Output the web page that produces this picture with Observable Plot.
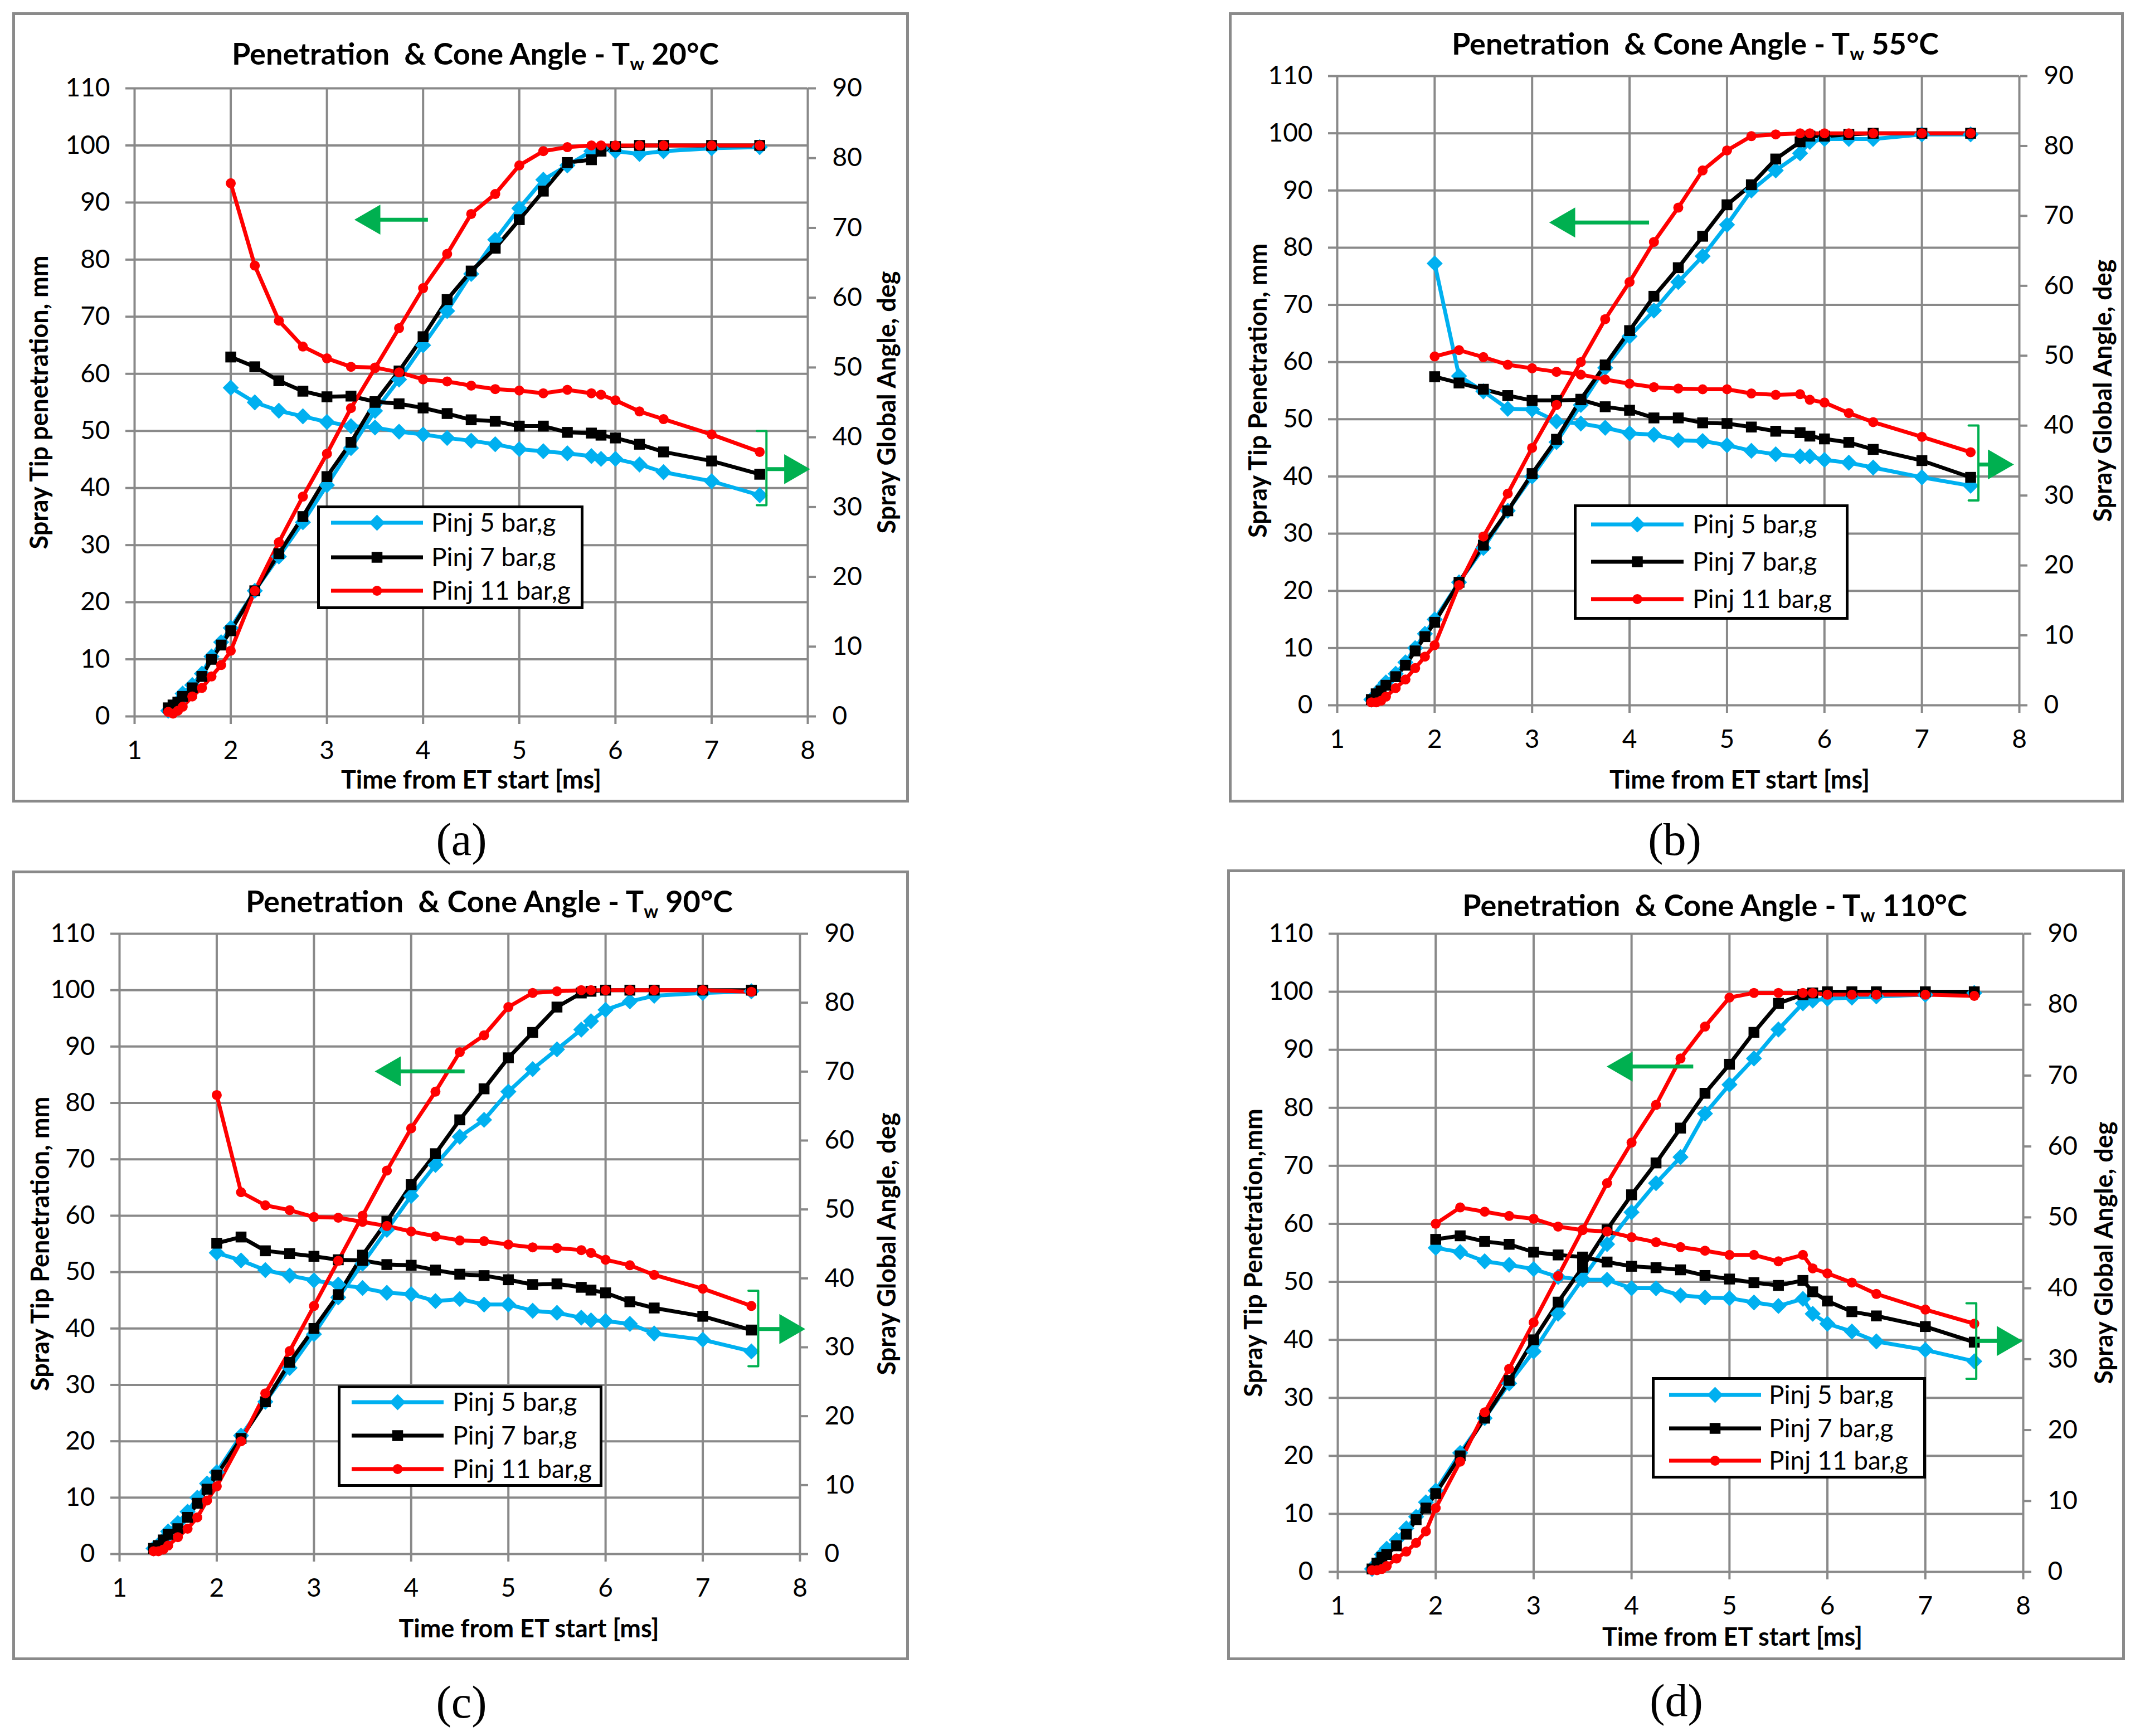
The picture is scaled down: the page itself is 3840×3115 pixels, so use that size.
<!DOCTYPE html>
<html>
<head>
<meta charset="utf-8">
<script src="https://cdn.jsdelivr.net/npm/d3@7"></script>
<script src="https://cdn.jsdelivr.net/npm/@observablehq/plot@0.6"></script>
<style>
  body { margin: 0; background: #fff; }
  #page { position: relative; width: 3840px; height: 3115px; background: #fff; font-family: Lato, sans-serif; }
  .box { position: absolute; box-sizing: border-box; border: 5px solid #8a8a8a; }
  .box svg { position: absolute; left: 0; top: 0; overflow: visible; }
  .title { position: absolute; width: 2400px; text-align: center; font-weight: bold; font-size: 54px; line-height: 54px; white-space: pre; }
  .title .sub { font-size: 0.6em; position: relative; top: 0.3em; }
  .legend { position: absolute; box-sizing: border-box; border: 5px solid #000; background: #fff; }
  .cap { position: absolute; font-family: "Liberation Serif", serif; font-size: 82px; line-height: 82px; width: 400px; text-align: center; }
</style>
</head>
<body>
<div id="page"></div>
<script>
// times (ms)
const tPen = [1.35, 1.4, 1.45, 1.5, 1.6, 1.7, 1.8, 1.9, 2, 2.25, 2.5, 2.75, 3, 3.25, 3.5, 3.75, 4, 4.25, 4.5, 4.75, 5, 5.25, 5.5, 5.75, 5.85, 6, 6.25, 6.5, 7, 7.5];
const tAng = [2, 2.25, 2.5, 2.75, 3, 3.25, 3.5, 3.75, 4, 4.25, 4.5, 4.75, 5, 5.25, 5.5, 5.75, 5.85, 6, 6.25, 6.5, 7, 7.5];

// (a) Tw 20°C
const penA5  = [1, 1.5, 2.5, 4, 5.5, 7.5, 10.5, 13, 15.5, 22, 28, 34, 40.5, 47, 53.5, 59, 65, 71, 77.5, 83.5, 89, 94, 96.5, 99, 99.5, 99, 98.5, 99, 99.5, 99.7];
const penA7  = [1.5, 2, 2.5, 3.5, 5, 7, 10, 12.5, 15, 22, 28.5, 35, 42, 48, 55, 60.5, 66.5, 73, 78, 82, 87, 92, 97, 97.5, 99, 99.8, 100, 100, 100, 100];
const penA11 = [0.8, 0.5, 1, 1.7, 3.5, 5, 7, 9, 11.5, 22, 30.5, 38.5, 46, 54, 61, 68, 75, 81, 88, 91.5, 96.5, 99, 99.7, 100, 100, 100, 100, 100, 100, 100];
const angA5  = [47.1, 45.0, 43.8, 43.0, 42.2, 41.6, 41.4, 40.8, 40.4, 39.9, 39.5, 39.0, 38.3, 38.0, 37.7, 37.3, 36.9, 36.9, 36.1, 35.0, 33.7, 31.7];
const angA7  = [51.5, 50.1, 48.1, 46.6, 45.8, 45.9, 45.1, 44.8, 44.2, 43.4, 42.5, 42.3, 41.6, 41.6, 40.7, 40.6, 40.3, 39.9, 39.0, 37.9, 36.6, 34.7];
const angA11 = [76.4, 64.6, 56.7, 53.0, 51.3, 50.1, 50.0, 49.3, 48.3, 48.0, 47.4, 46.9, 46.7, 46.3, 46.8, 46.3, 46.1, 45.3, 43.7, 42.6, 40.4, 37.9];

// (b) Tw 55°C
const penB5  = [1, 1.5, 3, 4, 5.5, 7.5, 10, 12.5, 15, 21.5, 27.5, 34, 40, 46, 52.5, 59, 64.5, 69, 74, 78.5, 84, 90, 93.5, 96.5, 98.5, 99, 99, 99, 99.8, 99.8];
const penB7  = [1, 2, 2.5, 3.5, 5, 7, 9.5, 12, 14.5, 21.5, 28, 34, 40.5, 46.5, 53.5, 59.5, 65.5, 71.5, 76.5, 82, 87.5, 91, 95.5, 98.5, 99.5, 99.5, 99.8, 100, 100, 100];
const penB11 = [0.5, 0.5, 0.8, 1.5, 3, 4.5, 6.5, 8.5, 10.5, 21, 29.5, 37, 45, 52.5, 60, 67.5, 74, 81, 87, 93.5, 97, 99.5, 99.8, 100, 100, 100, 100, 100, 100, 100];
const angB5  = [63.2, 47.1, 44.9, 42.4, 42.3, 40.6, 40.3, 39.7, 38.9, 38.7, 37.9, 37.8, 37.2, 36.4, 35.9, 35.6, 35.6, 35.1, 34.7, 34.0, 32.6, 31.4];
const angB7  = [47.0, 46.1, 45.2, 44.3, 43.6, 43.6, 43.7, 42.7, 42.2, 41.1, 41.1, 40.4, 40.3, 39.8, 39.2, 39.0, 38.5, 38.1, 37.6, 36.6, 35.0, 32.6];
const angB11 = [49.9, 50.8, 49.8, 48.7, 48.2, 47.7, 47.3, 46.6, 46.0, 45.5, 45.3, 45.2, 45.2, 44.6, 44.4, 44.5, 43.7, 43.3, 41.8, 40.5, 38.4, 36.2];

// (c) Tw 90°C
const penC5  = [1, 1.5, 2.5, 4, 5.5, 7.5, 10, 12.5, 14.5, 21, 27, 33, 39, 45.5, 51.5, 57.5, 63.5, 69, 74, 77, 82, 86, 89.5, 93, 94.5, 96.5, 98, 99, 99.5, 99.8];
const penC7  = [1, 1.5, 2.5, 3.5, 4.5, 6.5, 9, 11.5, 14, 20.5, 27, 34, 40, 46, 53, 59, 65.5, 71, 77, 82.5, 88, 92.5, 97, 99.5, 99.8, 100, 100, 100, 100, 100];
const penC11 = [0.5, 0.5, 0.8, 1.5, 3, 4.5, 6.5, 9.5, 12, 20, 28.5, 36, 44, 52, 60, 68, 75.5, 82, 89, 92, 97, 99.5, 99.8, 100, 100, 100, 100, 100, 100, 99.7];
const angC5  = [43.7, 42.6, 41.2, 40.4, 39.7, 39.1, 38.6, 37.9, 37.7, 36.7, 37.0, 36.2, 36.2, 35.3, 35.0, 34.3, 33.9, 33.8, 33.4, 32.0, 31.1, 29.4];
const angC7  = [45.1, 46.0, 44.0, 43.6, 43.2, 42.7, 42.6, 42.0, 41.9, 41.2, 40.6, 40.4, 39.8, 39.1, 39.2, 38.7, 38.3, 37.9, 36.6, 35.7, 34.5, 32.5];
const angC11 = [66.6, 52.5, 50.6, 49.9, 48.9, 48.8, 48.2, 47.6, 46.8, 46.1, 45.5, 45.4, 44.9, 44.5, 44.4, 44.1, 43.7, 42.7, 41.9, 40.5, 38.5, 36.0];

// (d) Tw 110°C
const penD5  = [0.5, 1.5, 3, 4, 5.5, 7.5, 9.5, 12, 14, 20.5, 26.5, 32.5, 38, 44.5, 50.5, 56.5, 62, 67, 71.5, 79, 84, 88.5, 93.5, 98, 98.5, 98.8, 99, 99.2, 99.5, 99.8];
const penD7  = [0.5, 1.5, 2.5, 3, 4.5, 6.5, 9, 11, 13.5, 20, 26.5, 33, 40, 46.5, 52.5, 59, 65, 70.5, 76.5, 82.5, 87.5, 93, 98, 99.5, 99.8, 100, 100, 100, 100, 100];
const penD11 = [0.3, 0.3, 0.5, 1, 2.3, 3.5, 5, 7, 11, 19, 27.5, 35, 43, 51, 59, 67, 74, 80.5, 88.5, 94, 99, 99.8, 99.8, 99.8, 99.8, 99.5, 99.5, 99.5, 99.5, 99.3];
const angD5  = [45.7, 45.1, 43.8, 43.3, 42.7, 41.6, 41.2, 41.2, 40.0, 40.0, 39.0, 38.7, 38.6, 38.0, 37.5, 38.5, 36.4, 35.0, 33.9, 32.5, 31.3, 29.7];
const angD7  = [46.9, 47.4, 46.6, 46.2, 45.1, 44.7, 44.4, 43.7, 43.1, 42.9, 42.6, 41.8, 41.3, 40.8, 40.4, 41.1, 39.5, 38.2, 36.7, 36.1, 34.6, 32.4];
const angD11 = [49.1, 51.4, 50.8, 50.2, 49.8, 48.7, 48.2, 48.0, 47.2, 46.5, 45.8, 45.3, 44.7, 44.7, 43.8, 44.7, 42.8, 42.1, 40.8, 39.2, 37.0, 35.0];

// green arrows: [tip x, tail x, y mm] and bracket [x, top mm, bottom mm, arrow y mm, tip x]
const arrowA = [3.28, 4.05, 87.0], bracketA = [7.57, 50.0, 37.0, 43.3, 8.03];
const arrowB = [3.17, 4.20, 84.4], bracketB = [7.58, 48.9, 35.8, 42.1, 7.95];
const arrowC = [3.62, 4.55, 85.6], bracketC = [7.57, 46.7, 33.3, 39.9, 8.06];
const arrowD = [3.74, 4.63, 87.1], bracketD = [7.52, 46.3, 33.3, 39.8, 8.00];

const seriesNames = ["Pinj 5 bar,g", "Pinj 7 bar,g", "Pinj 11 bar,g"];
const xTicks = [1, 2, 3, 4, 5, 6, 7, 8];
const yTicks = [0, 10, 20, 30, 40, 50, 60, 70, 80, 90, 100, 110];
const angTicks = [0, 10, 20, 30, 40, 50, 60, 70, 80, 90];

const colors = ["#00b0f0", "#000000", "#ff0000"];
const symbols = ["diamond2", "square", "circle"];
const radii = [13, 11, 9];
const gray = "#898989", green = "#00b050";
const k = 110 / 90; // angle axis -> mm axis

const panels = [
  {cap: "(a)", capXY: [828, 1507], temp: "20°C", box: [22, 22, 1609, 1418], frame: [219, 136, 1427, 1263],
   titleXY: [831, 95], yTitle: "Spray Tip penetration, mm", yTitleX: 49, y2TitleX: 1570, xTitleDx: 0, xTitleY: 1392,
   legend: [547, 885, 478, 186], rows: [31, 93, 153], lineX: [25, 190], textX: 205,
   pen: [penA5, penA7, penA11], ang: [angA5, angA7, angA11], arrow: arrowA, bracket: bracketA},
  {cap: "(b)", capXY: [3005, 1507], temp: "55°C", box: [2205, 22, 1606, 1418], frame: [194, 114, 1418, 1243],
   titleXY: [837, 77], yTitle: "Spray Tip Penetration, mm", yTitleX: 53, y2TitleX: 1569, xTitleDx: 110, xTitleY: 1392,
   legend: [619, 883, 493, 207], rows: [36, 103, 170], lineX: [31, 197], textX: 213,
   pen: [penB5, penB7, penB11], ang: [angB5, angB7, angB11], arrow: arrowB, bracket: bracketB},
  {cap: "(c)", capXY: [828, 3055], temp: "90°C", box: [22, 1562, 1609, 1417], frame: [192, 113, 1413, 1226],
   titleXY: [856, 76], yTitle: "Spray Tip Penetration, mm", yTitleX: 51, y2TitleX: 1570, xTitleDx: 124, xTitleY: 1375,
   legend: [584, 924, 475, 182], rows: [30, 90, 150], lineX: [25, 190], textX: 206,
   pen: [penC5, penC7, penC11], ang: [angC5, angC7, angC11], arrow: arrowC, bracket: bracketC},
  {cap: "(d)", capXY: [3008, 3052], temp: "110°C", box: [2202, 1560, 1611, 1419], frame: [198, 115, 1428, 1260],
   titleXY: [875, 85], yTitle: "Spray Tip Penetration,mm", yTitleX: 48, y2TitleX: 1574, xTitleDx: 93, xTitleY: 1392,
   legend: [762, 911, 492, 182], rows: [32, 92, 150], lineX: [31, 196], textX: 210,
   pen: [penD5, penD7, penD11], ang: [angD5, angD7, angD11], arrow: arrowD, bracket: bracketD}
];

const page = document.getElementById("page");

function drawPanel(p) {
  const [bx, by, W, H] = p.box;
  const [fl, ft, fr, fb] = p.frame;
  const box = document.createElement("div");
  box.className = "box";
  Object.assign(box.style, {left: bx + "px", top: by + "px", width: W + "px", height: H + "px"});
  page.appendChild(box);

  // long table: penetration and angle curves for each pressure
  const rows = [];
  seriesNames.forEach((s, i) => {
    tPen.forEach((t, j) => rows.push({t, v: p.pen[i][j], s, z: s + " pen"}));
    tAng.forEach((t, j) => rows.push({t, v: p.ang[i][j] * k, s, z: s + " ang"}));
  });

  const [tip, tail, ay] = p.arrow;
  const [bxr, bTop, bBot, by2, tip2] = p.bracket;
  const brk = [[bxr - 0.1, bTop], [bxr, bTop], [bxr, bBot], [bxr - 0.1, bBot]];

  const chart = Plot.plot({
    width: W - 10,
    height: H - 10,
    marginLeft: fl - 5,
    marginTop: ft - 5,
    marginRight: W - 5 - fr,
    marginBottom: H - 5 - fb,
    style: {fontFamily: "Lato, sans-serif", fontSize: "46px", color: "black", background: "transparent", overflow: "visible"},
    x: {domain: [1, 8]},
    y: {domain: [0, 110]},
    marks: [
      Plot.gridY(yTicks, {stroke: gray, strokeOpacity: 1, strokeWidth: 4}),
      Plot.gridX(xTicks, {stroke: gray, strokeOpacity: 1, strokeWidth: 4}),
      Plot.axisX(xTicks, {tickSize: 14, tickPadding: 30, stroke: gray, strokeWidth: 4, tickFormat: d => d, label: null}),
      Plot.axisY(yTicks, {tickSize: 16, tickPadding: 28, stroke: gray, strokeWidth: 4, tickFormat: d => d, label: null}),
      Plot.axisY(angTicks.map(a => a * k), {anchor: "right", tickSize: 14, tickPadding: 30, stroke: gray, strokeWidth: 4,
        tickFormat: d => Math.round(d / k), label: null}),
      Plot.text([p.yTitle], {frameAnchor: "left", textAnchor: "middle", rotate: -90, dx: p.yTitleX - fl, lineAnchor: "middle", fontWeight: "bold", fontSize: 45}),
      Plot.text(["Spray Global Angle, deg"], {frameAnchor: "right", textAnchor: "middle", rotate: -90, dx: p.y2TitleX - fr, lineAnchor: "middle", fontWeight: "bold", fontSize: 45}),
      Plot.text(["Time from ET start [ms]"], {frameAnchor: "bottom", dx: p.xTitleDx, dy: p.xTitleY - fb, lineAnchor: "bottom", fontWeight: "bold", fontSize: 45}),
      ...seriesNames.map((s, i) => Plot.line(rows.filter(d => d.s === s), {x: "t", y: "v", z: "z", stroke: colors[i], strokeWidth: 7})),
      ...seriesNames.map((s, i) => Plot.dot(rows.filter(d => d.s === s), {x: "t", y: "v", symbol: symbols[i], r: radii[i], fill: colors[i], stroke: "none"})),
      // green annotation arrows
      Plot.link([p.arrow], {x1: tail, x2: tip + 0.12, y1: ay, y2: ay, stroke: green, strokeWidth: 7}),
      Plot.dot([p.arrow], {x: tip, y: ay, symbol: "triangle", r: 20, rotate: -90, dx: 32, fill: green, stroke: "none"}),
      Plot.line(brk, {stroke: green, strokeWidth: 4}),
      Plot.link([p.bracket], {x1: bxr, x2: tip2 - 0.12, y1: by2, y2: by2, stroke: green, strokeWidth: 7}),
      Plot.dot([p.bracket], {x: tip2, y: by2, symbol: "triangle", r: 20, rotate: 90, dx: -32, fill: green, stroke: "none"})
    ]
  });
  box.appendChild(chart);

  const title = document.createElement("div");
  title.className = "title";
  title.innerHTML = `Penetration&nbsp; &amp; Cone Angle - T<span class="sub">w</span> ${p.temp}`;
  Object.assign(title.style, {left: (p.titleXY[0] - 5 - 1200) + "px", top: (p.titleXY[1] - 5 - 48) + "px"});
  box.appendChild(title);

  // legend
  const [lx, ly, lw, lh] = p.legend;
  const leg = document.createElement("div");
  leg.className = "legend";
  Object.assign(leg.style, {left: (lx - 5) + "px", top: (ly - 5) + "px", width: lw + "px", height: lh + "px"});
  box.appendChild(leg);
  const svg = d3.select(leg).append("svg").attr("width", lw - 10).attr("height", lh - 10)
    .style("position", "absolute").style("left", 0).style("top", 0).style("overflow", "visible");
  const symMap = {diamond2: d3.symbolDiamond2, square: d3.symbolSquare, circle: d3.symbolCircle};
  seriesNames.forEach((s, i) => {
    const ry = p.rows[i] - 5;
    svg.append("line").attr("x1", p.lineX[0] - 5).attr("x2", p.lineX[1] - 5).attr("y1", ry).attr("y2", ry)
      .attr("stroke", colors[i]).attr("stroke-width", 7);
    svg.append("path").attr("transform", `translate(${(p.lineX[0] + p.lineX[1]) / 2 - 5},${ry})`)
      .attr("d", d3.symbol(symMap[symbols[i]], Math.PI * radii[i] * radii[i])()).attr("fill", colors[i]);
    svg.append("text").attr("x", p.textX - 5).attr("y", ry).attr("dy", "0.35em")
      .attr("font-family", "Lato, sans-serif").attr("font-size", 46).text(s);
  });

  const cap = document.createElement("div");
  cap.className = "cap";
  cap.textContent = p.cap;
  Object.assign(cap.style, {left: (p.capXY[0] - 200) + "px", top: (p.capXY[1] - 41) + "px"});
  page.appendChild(cap);
}

panels.forEach(drawPanel);
</script>
</body>
</html>
